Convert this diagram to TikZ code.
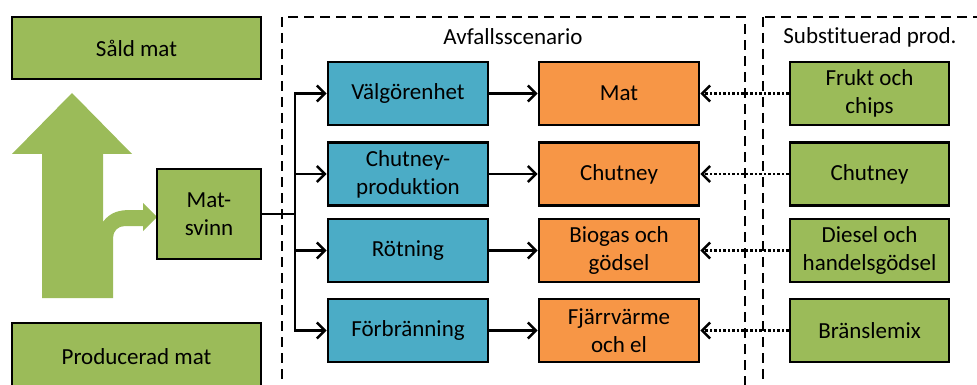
\documentclass[tikz,border=0pt]{standalone}
\usepackage{fontspec}
\setmainfont{Carlito}[Ligatures=NoCommon]
\usetikzlibrary{arrows.meta}
\definecolor{leaf}{HTML}{9BBB59}
\definecolor{sea}{HTML}{4BACC6}
\definecolor{peach}{HTML}{F79646}
\tikzset{
  box/.style={draw=black, line width=2.6pt, align=center, inner sep=0pt,
    font=\fontsize{23}{28}\selectfont},
  greenbox/.style={box, fill=leaf},
  bluebox/.style={box, fill=sea, minimum width=160pt, minimum height=63pt},
  orangebox/.style={box, fill=peach, minimum width=160pt, minimum height=63pt},
  subbox/.style={box, fill=leaf, minimum width=159pt, minimum height=63pt},
  frame/.style={draw=black, line width=2.8pt, dash pattern=on 10pt off 6pt},
  title/.style={font=\fontsize{23}{28}\selectfont, inner sep=0pt},
  flow/.style={line width=2.6pt, -{Straight Barb[length=8pt,width=16pt,line width=2.6pt]}},
  subst/.style={line width=2.6pt, dash pattern=on 2.5pt off 2pt,
    -{Straight Barb[length=8pt,width=16pt,line width=2.6pt]}},
}
\begin{document}
\begin{tikzpicture}[x=1pt, y=-1pt]
\clip (0,0) rectangle (977,385);
\fill[white] (0,0) rectangle (977,385);

% scenario frames
\draw[frame] (282,17) rectangle (745,410);
\draw[frame] (763,17) rectangle (1000,410);
\node[title] (ttlA) at (513,37) {Avfallsscenario};
\node[title] (ttlB) at (870,37) {Substituerad prod.};

% food flow arrow with waste branch
\fill[leaf] (42,298) -- (42,154) -- (12,154) -- (72,93) -- (132,154) -- (103,154)
  -- (103,222) .. controls (110,212) and (120,210) .. (130,210) -- (143,210)
  -- (143,203) -- (157,217) -- (143,231) -- (143,226) -- (125,226)
  .. controls (118,226) and (113,231) .. (113,238) -- (113,298) -- cycle;

% left column
\node[greenbox, minimum width=249pt, minimum height=62pt] (sold) at (136.5,48) {Såld mat};
\node[greenbox, minimum width=249pt, minimum height=68pt] (prod) at (136.5,357) {Producerad mat};
\node[greenbox, minimum width=104pt, minimum height=90pt] (svinn) at (209,214) {Mat-\\svinn};

% treatment routes
\node[bluebox] (b1) at (408,93.5) {Välgörenhet};
\node[bluebox] (b2) at (408,174) {Chutney-\\produktion};
\node[bluebox] (b3) at (408,250.5) {Rötning};
\node[bluebox] (b4) at (408,330.5) {Förbränning};

% products
\node[orangebox] (o1) at (619,93.5) {Mat};
\node[orangebox] (o2) at (619,174) {Chutney};
\node[orangebox] (o3) at (619,250.5) {Biogas och\\gödsel};
\node[orangebox] (o4) at (619,330.5) {Fjärrvärme\\och el};

% substituted products
\node[subbox] (s1) at (869.5,93.5) {Frukt och\\chips};
\node[subbox] (s2) at (869.5,174) {Chutney};
\node[subbox] (s3) at (869.5,250.5) {Diesel och\\handelsgödsel};
\node[subbox] (s4) at (869.5,330.5) {Bränslemix};

% branching from the waste box
\coordinate (junc) at (295,214);
\draw[line width=2.6pt] (svinn.east) -- (junc);
\foreach \i in {1,2,3,4}{
  \draw[flow] (junc) |- (b\i.west);
  \draw[flow] (b\i.east) -- (o\i.west);
  \draw[subst] (s\i.west) -- (o\i.east);
}
\end{tikzpicture}
\end{document}
